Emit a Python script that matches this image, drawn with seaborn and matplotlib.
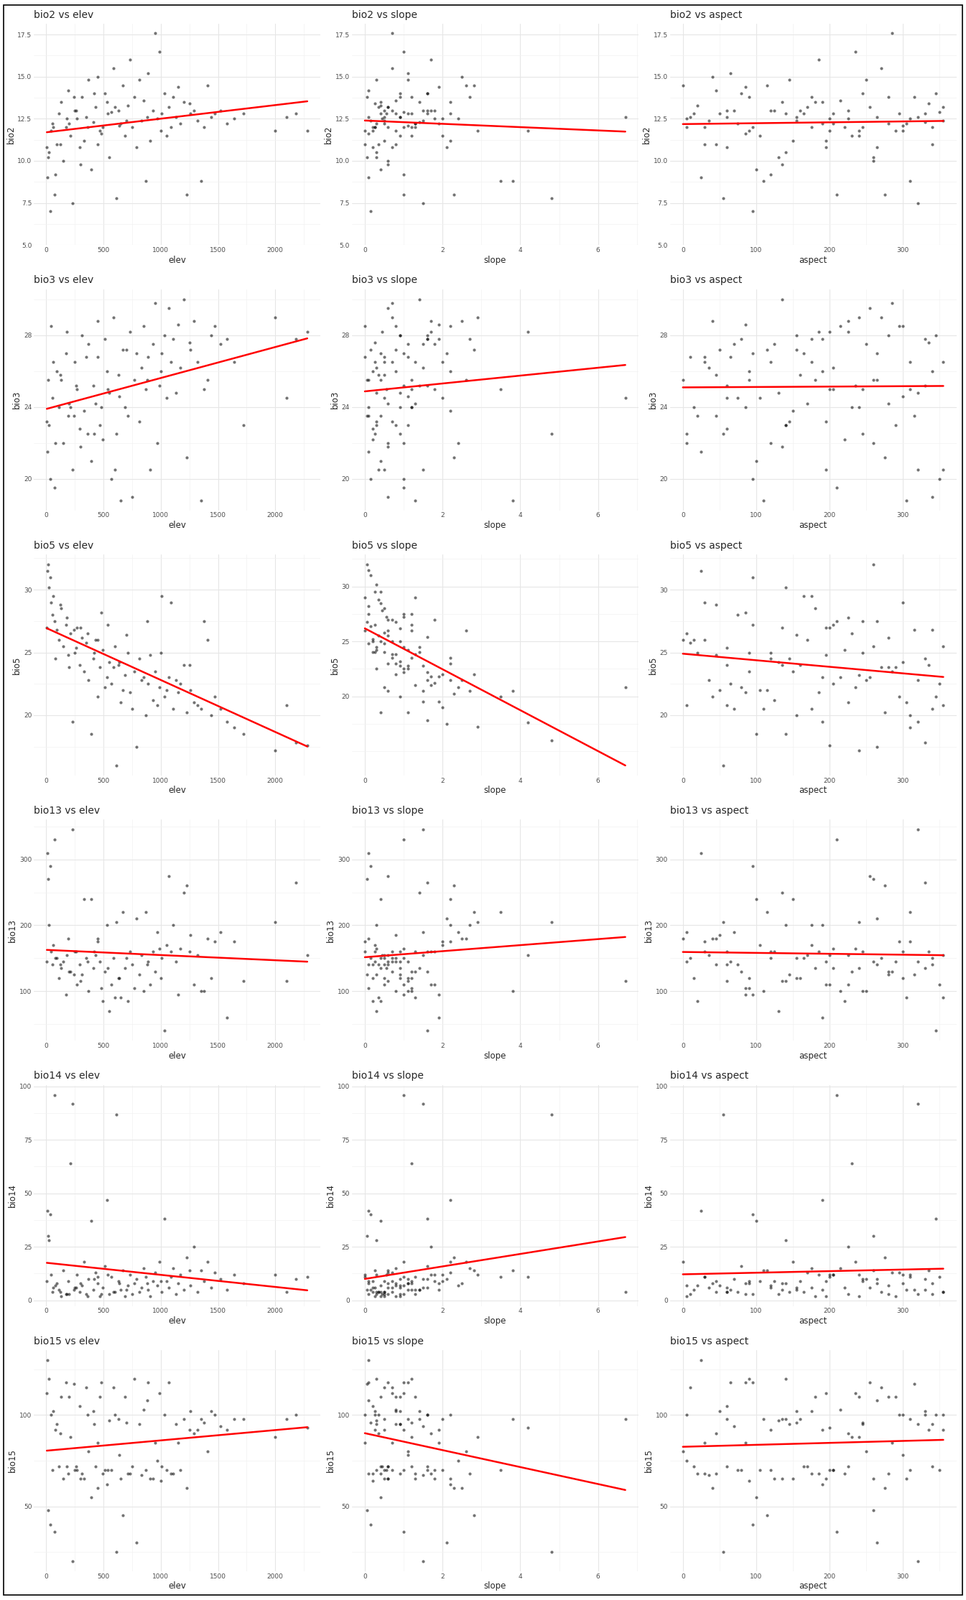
import numpy as np
import pandas as pd
import matplotlib
matplotlib.use("Agg")
import matplotlib.pyplot as plt
from matplotlib.patches import Rectangle
from matplotlib.ticker import AutoMinorLocator
import seaborn as sns

# site-level values, one entry per site
elev = [10, 25, 40, 55, 70, 90, 110, 130, 150, 170, 190, 210, 230, 250, 270, 290, 310, 330, 350, 370,
        390, 410, 430, 450, 470, 490, 510, 530, 550, 570, 590, 610, 630, 650, 670, 690, 710, 730, 750, 770,
        790, 810, 830, 850, 870, 890, 910, 930, 950, 970, 990, 1010, 1030, 1050, 1070, 1090, 1110, 1130, 1150, 1170,
        1200, 1230, 1260, 1290, 1320, 1350, 1380, 1410, 1440, 1470, 1520, 1580, 1640, 1720, 2000, 2100, 2180, 2280,
        15, 35, 60, 120, 180, 240, 300, 360, 420, 480, 540, 600, 80, 200, 450, 700, 880, 1000, 1250, 5, 260, 640]
slope = [0.1, 0.3, 0.0, 0.5, 1.0, 0.8, 1.2, 0.4, 0.6, 1.0, 0.1, 1.2, 1.5, 0.7, 1.8, 0.2, 0.9, 2.2, 0.5, 1.1,
         0.4, 1.4, 0.6, 2.5, 0.8, 0.2, 1.6, 2.2, 0.3, 1.0, 0.7, 4.8, 0.5, 1.3, 2.8, 0.9, 0.4, 1.7, 0.6, 1.2,
         2.1, 0.3, 1.5, 0.8, 3.5, 1.1, 0.5, 1.8, 0.7, 2.4, 1.0, 0.4, 1.6, 2.0, 0.6, 1.3, 2.7, 0.9, 1.9, 0.3,
         1.4, 2.3, 0.8, 1.7, 0.5, 3.8, 1.2, 2.6, 0.9, 2.2, 1.5, 1.9, 2.0, 1.1, 2.9, 6.7, 1.6, 4.2,
         0.05, 0.15, 0.25, 0.35, 0.45, 0.05, 0.6, 0.25, 0.9, 0.1, 0.55, 0.35, 1.0, 1.3, 0.0, 0.15, 0.1, 0.2, 0.25, 0.7, 1.6, 1.1]
aspect = [25, 140, 300, 75, 210, 340, 15, 180, 260, 95, 45, 230, 320, 120, 200, 60, 280, 150, 10, 250,
          100, 330, 170, 40, 290, 220, 80, 190, 130, 350, 270, 55, 160, 305, 115, 240, 20, 185, 340, 90,
          265, 145, 35, 215, 310, 65, 195, 125, 285, 5, 235, 165, 345, 105, 255, 30, 175, 320, 85, 205,
          135, 275, 50, 225, 355, 110, 245, 0, 155, 295, 70, 190, 310, 140, 240, 60, 330, 200,
          260, 95, 175, 45, 225, 315, 135, 5, 245, 85, 205, 355, 120, 280, 30, 155, 265, 90, 335, 195, 60, 300]
bio2 = [9.0, 10.5, 11.8, 12.2, 8.0, 11.0, 12.8, 13.5, 10.0, 12.0, 14.2, 11.5, 7.5, 13.0, 12.5, 10.8, 13.8, 11.2, 12.6, 14.8,
        9.5, 12.3, 13.2, 15.0, 11.8, 12.0, 14.0, 13.5, 10.2, 12.9, 15.5, 7.8, 13.0, 12.2, 14.5, 11.5, 13.3, 16.0, 12.0, 13.8,
        10.8, 14.8, 12.4, 13.6, 8.8, 15.2, 11.2, 13.0, 17.6, 12.5, 16.5, 12.8, 14.0, 11.5, 13.2, 12.0, 13.8, 12.6, 14.4, 12.2,
        13.5, 8.0, 12.8, 13.0, 12.4, 8.8, 12.0, 14.5, 12.6, 12.8, 13.0, 12.2, 12.5, 12.8, 11.8, 12.6, 12.8, 11.8,
        10.2, 7.0, 12.0, 11.0, 12.5, 13.8, 9.8, 12.0, 14.0, 11.6, 12.8, 13.2, 9.2, 12.2, 11.0, 12.4, 12.6, 11.8, 13.4, 10.8, 13.0, 12.1]
bio3 = [21.5, 23.0, 28.5, 24.5, 19.5, 26.0, 24.0, 25.5, 22.0, 27.0, 23.5, 24.0, 20.5, 26.5, 25.0, 22.8, 28.0, 23.8, 26.8, 27.5,
        21.0, 25.2, 24.2, 28.8, 23.0, 22.2, 27.8, 26.0, 24.8, 20.0, 29.0, 22.5, 25.8, 18.8, 27.2, 24.0, 23.5, 28.2, 19.0, 25.5,
        27.0, 23.2, 26.2, 28.5, 25.0, 26.8, 20.5, 27.5, 29.8, 22.0, 25.2, 27.0, 28.0, 24.5, 29.5, 26.5, 27.8, 24.8, 28.6, 26.2,
        30.0, 21.2, 27.2, 28.8, 26.5, 18.8, 25.0, 25.5, 28.0, 28.5, 27.5, 27.8, 26.5, 23.0, 29.0, 24.5, 27.8, 28.2,
        25.5, 20.0, 26.5, 25.8, 28.2, 23.5, 21.8, 22.5, 22.5, 24.0, 25.0, 20.5, 22.0, 24.2, 26.8, 27.2, 25.5, 26.0, 27.6, 23.2, 25.2, 24.6]
bio5 = [31.5, 30.2, 29.0, 28.0, 27.5, 26.8, 26.0, 28.5, 25.5, 27.2, 24.8, 26.5, 19.5, 25.0, 27.0, 24.0, 26.2, 23.5, 25.8, 22.8,
        18.5, 24.5, 26.0, 21.5, 23.8, 25.2, 22.2, 23.0, 24.2, 22.5, 23.8, 16.0, 24.0, 21.0, 22.0, 23.2, 25.0, 21.8, 20.5, 23.5,
        17.5, 24.5, 22.8, 23.0, 20.0, 22.5, 24.8, 21.2, 23.5, 20.8, 22.2, 29.5, 21.5, 22.0, 23.0, 29.0, 20.5, 22.8, 21.8, 22.5,
        24.0, 20.2, 22.0, 21.0, 20.8, 20.5, 27.5, 26.0, 20.0, 21.5, 20.5, 19.5, 19.0, 18.5, 17.2, 20.8, 17.8, 17.6,
        32.0, 31.0, 29.5, 28.8, 27.8, 26.8, 27.0, 26.5, 25.0, 28.2, 27.2, 25.5, 24.5, 23.8, 26.0, 26.4, 27.5, 25.0, 24.0, 27.0, 25.4, 24.2]
bio13 = [310, 200, 160, 140, 330, 150, 120, 135, 145, 95, 180, 130, 345, 160, 110, 140, 125, 240, 150, 100,
         240, 135, 155, 180, 145, 85, 130, 200, 70, 110, 150, 205, 120, 90, 220, 135, 85, 160, 140, 105,
         210, 125, 155, 100, 220, 145, 110, 160, 130, 190, 165, 150, 40, 170, 275, 160, 200, 145, 95, 165,
         250, 260, 185, 110, 155, 100, 100, 180, 120, 175, 190, 60, 175, 115, 205, 115, 265, 155,
         270, 290, 170, 140, 155, 125, 115, 145, 160, 105, 135, 90, 150, 130, 175, 150, 140, 120, 160, 145, 160, 120]
bio14 = [42, 28, 12, 4, 96, 8, 5, 2, 14, 3, 9, 64, 92, 6, 12, 4, 7, 18, 3, 10,
         37, 5, 13, 8, 2, 6, 16, 47, 3, 11, 4, 87, 9, 5, 14, 2, 7, 12, 3, 8,
         10, 4, 6, 15, 11, 5, 2, 9, 13, 7, 18, 4, 38, 9, 6, 11, 15, 3, 8, 12,
         5, 20, 7, 25, 4, 14, 9, 18, 6, 13, 10, 5, 12, 8, 12, 4, 10, 11,
         30, 40, 6, 4, 3, 5, 8, 2, 10, 3, 12, 4, 7, 3, 11, 5, 8, 9, 14, 9, 6, 8]
bio15 = [130, 120, 100, 70, 36, 95, 72, 110, 65, 118, 68, 88, 20, 70, 70, 105, 68, 65, 115, 80,
         55, 102, 72, 60, 110, 68, 70, 62, 97, 70, 115, 25, 98, 65, 45, 110, 68, 68, 72, 120,
         30, 95, 67, 103, 70, 118, 65, 65, 85, 75, 112, 72, 100, 70, 118, 68, 68, 95, 85, 70,
         98, 60, 102, 90, 92, 98, 96, 80, 102, 100, 94, 92, 98, 98, 88, 98, 100, 93,
         48, 40, 102, 90, 72, 117, 65, 100, 95, 118, 70, 100, 92, 110, 85, 96, 108, 64, 92, 112, 72, 78]

df = pd.DataFrame({"elev": elev, "slope": slope, "aspect": aspect,
                   "bio2": bio2, "bio3": bio3, "bio5": bio5,
                   "bio13": bio13, "bio14": bio14, "bio15": bio15})

ys = ["bio2", "bio3", "bio5", "bio13", "bio14", "bio15"]
xs = ["elev", "slope", "aspect"]
yticks = {"bio2": [5, 7.5, 10, 12.5, 15, 17.5], "bio3": [20, 24, 28], "bio5": [20, 25, 30],
          "bio13": [100, 200, 300], "bio14": [0, 25, 50, 75, 100], "bio15": [50, 100]}
ylabels = {"bio2": ["5.0", "7.5", "10.0", "12.5", "15.0", "17.5"]}
xticks = {"elev": [0, 500, 1000, 1500, 2000], "slope": [0, 2, 4, 6], "aspect": [0, 100, 200, 300]}

sns.set_style("whitegrid")
plt.rcParams['font.family'] = ['DejaVu Sans']
fig, axes = plt.subplots(6, 3, figsize=(13.45, 22.28), dpi=100)
fig.subplots_adjust(left=0.035, right=0.99, top=0.985, bottom=0.018, wspace=0.11, hspace=0.2)

for i, yv in enumerate(ys):
    for j, xv in enumerate(xs):
        ax = axes[i, j]
        sns.regplot(data=df, x=xv, y=yv, ax=ax, ci=None,
                    scatter_kws=dict(s=9, color="black", alpha=0.55, linewidths=0),
                    line_kws=dict(color="red", linewidth=1.8))
        ax.set_title(f"{yv} vs {xv}", loc="left", fontsize=10, pad=6)
        ax.set_xlabel(xv, fontsize=8.5, labelpad=2)
        ax.set_ylabel(yv, fontsize=8.5, labelpad=2)
        ax.set_xticks(xticks[xv])
        ax.set_yticks(yticks[yv])
        if yv in ylabels:
            ax.set_yticklabels(ylabels[yv])
        ax.xaxis.set_minor_locator(AutoMinorLocator(2))
        ax.yaxis.set_minor_locator(AutoMinorLocator(2))
        ax.grid(True, which="major", color="#e6e6e6", linewidth=0.8)
        ax.grid(True, which="minor", color="#f2f2f2", linewidth=0.5)
        ax.tick_params(axis="both", which="both", length=0, labelsize=6.5, labelcolor="#4d4d4d", pad=2)
        for s in ax.spines.values():
            s.set_visible(False)

fig.patches.append(Rectangle((0.004, 0.003), 0.992, 0.994, transform=fig.transFigure,
                             fill=False, edgecolor="black", linewidth=1.2))
fig.savefig("out.png", dpi=100)
